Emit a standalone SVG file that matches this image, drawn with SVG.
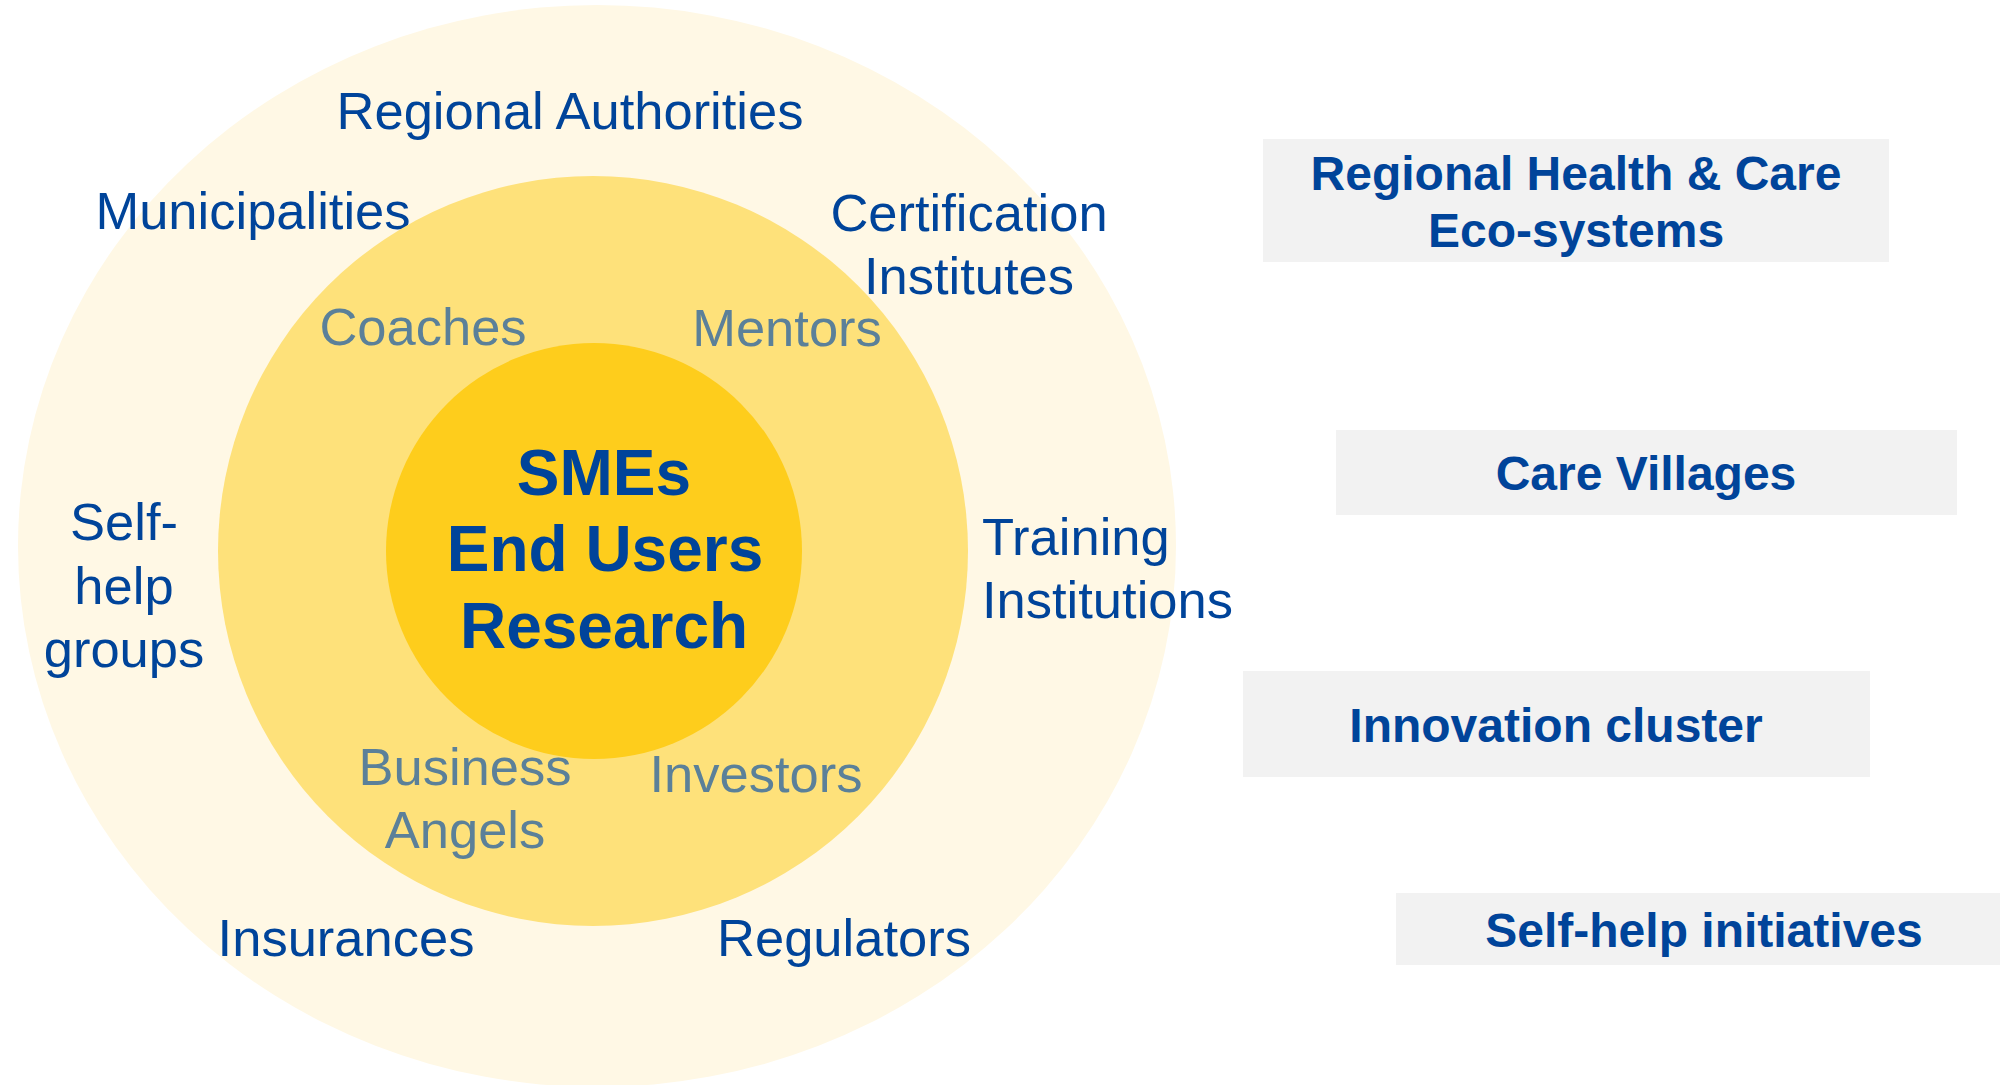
<svg xmlns="http://www.w3.org/2000/svg" width="2000" height="1085" viewBox="0 0 2000 1085">
  <style>
    .lbl { font-family: "Liberation Sans", Arial, sans-serif; font-size: 52.5px; fill: #00449A; text-anchor: middle; }
    .sub { font-family: "Liberation Sans", Arial, sans-serif; font-size: 52.5px; fill: #5B8099; text-anchor: middle; }
    .core { font-family: "Liberation Sans", Arial, sans-serif; font-size: 64px; font-weight: bold; fill: #00449A; text-anchor: middle; }
    .box { fill: #F2F2F2; }
    .btxt { font-family: "Liberation Sans", Arial, sans-serif; font-size: 48px; font-weight: bold; fill: #00449A; text-anchor: middle; }
  </style>
  <rect x="0" y="0" width="2000" height="1085" fill="#FFFFFF"/>

  <g id="outer-ring">
    <ellipse cx="597" cy="546" rx="579" ry="541" fill="#FFF8E5"/>
    <text class="lbl" x="570" y="129">Regional Authorities</text>
    <text class="lbl" x="253" y="229">Municipalities</text>
    <text class="lbl" x="969" y="231">Certification</text>
    <text class="lbl" x="969" y="294">Institutes</text>
    <text class="lbl" x="124" y="540">Self-</text>
    <text class="lbl" x="124" y="604">help</text>
    <text class="lbl" x="124" y="667">groups</text>
    <text class="lbl" x="982" y="555" style="text-anchor:start">Training</text>
    <text class="lbl" x="982" y="618" style="text-anchor:start">Institutions</text>
    <text class="lbl" x="346" y="956">Insurances</text>
    <text class="lbl" x="844" y="956">Regulators</text>
  </g>

  <g id="middle-ring">
    <circle cx="593" cy="551" r="375" fill="#FEE17A"/>
    <text class="sub" x="423" y="345">Coaches</text>
    <text class="sub" x="787" y="346">Mentors</text>
    <text class="sub" x="465" y="785">Business</text>
    <text class="sub" x="465" y="848">Angels</text>
    <text class="sub" x="756" y="792">Investors</text>
  </g>

  <g id="core">
    <circle cx="594" cy="551" r="208" fill="#FECD1C"/>
    <text class="core" x="604" y="495">SMEs</text>
    <text class="core" x="605" y="571">End Users</text>
    <text class="core" x="604" y="648">Research</text>
  </g>

  <g id="box-regional">
    <rect class="box" x="1263" y="139" width="626" height="123"/>
    <text class="btxt" x="1576" y="190">Regional Health &amp; Care</text>
    <text class="btxt" x="1576" y="247">Eco-systems</text>
  </g>

  <g id="box-care-villages">
    <rect class="box" x="1336" y="430" width="621" height="85"/>
    <text class="btxt" x="1646" y="490">Care Villages</text>
  </g>

  <g id="box-innovation">
    <rect class="box" x="1243" y="671" width="627" height="106"/>
    <text class="btxt" x="1556" y="742">Innovation cluster</text>
  </g>

  <g id="box-selfhelp">
    <rect class="box" x="1396" y="893" width="604" height="72"/>
    <text class="btxt" x="1704" y="947">Self-help initiatives</text>
  </g>

  <g id="connectors"></g>
</svg>
